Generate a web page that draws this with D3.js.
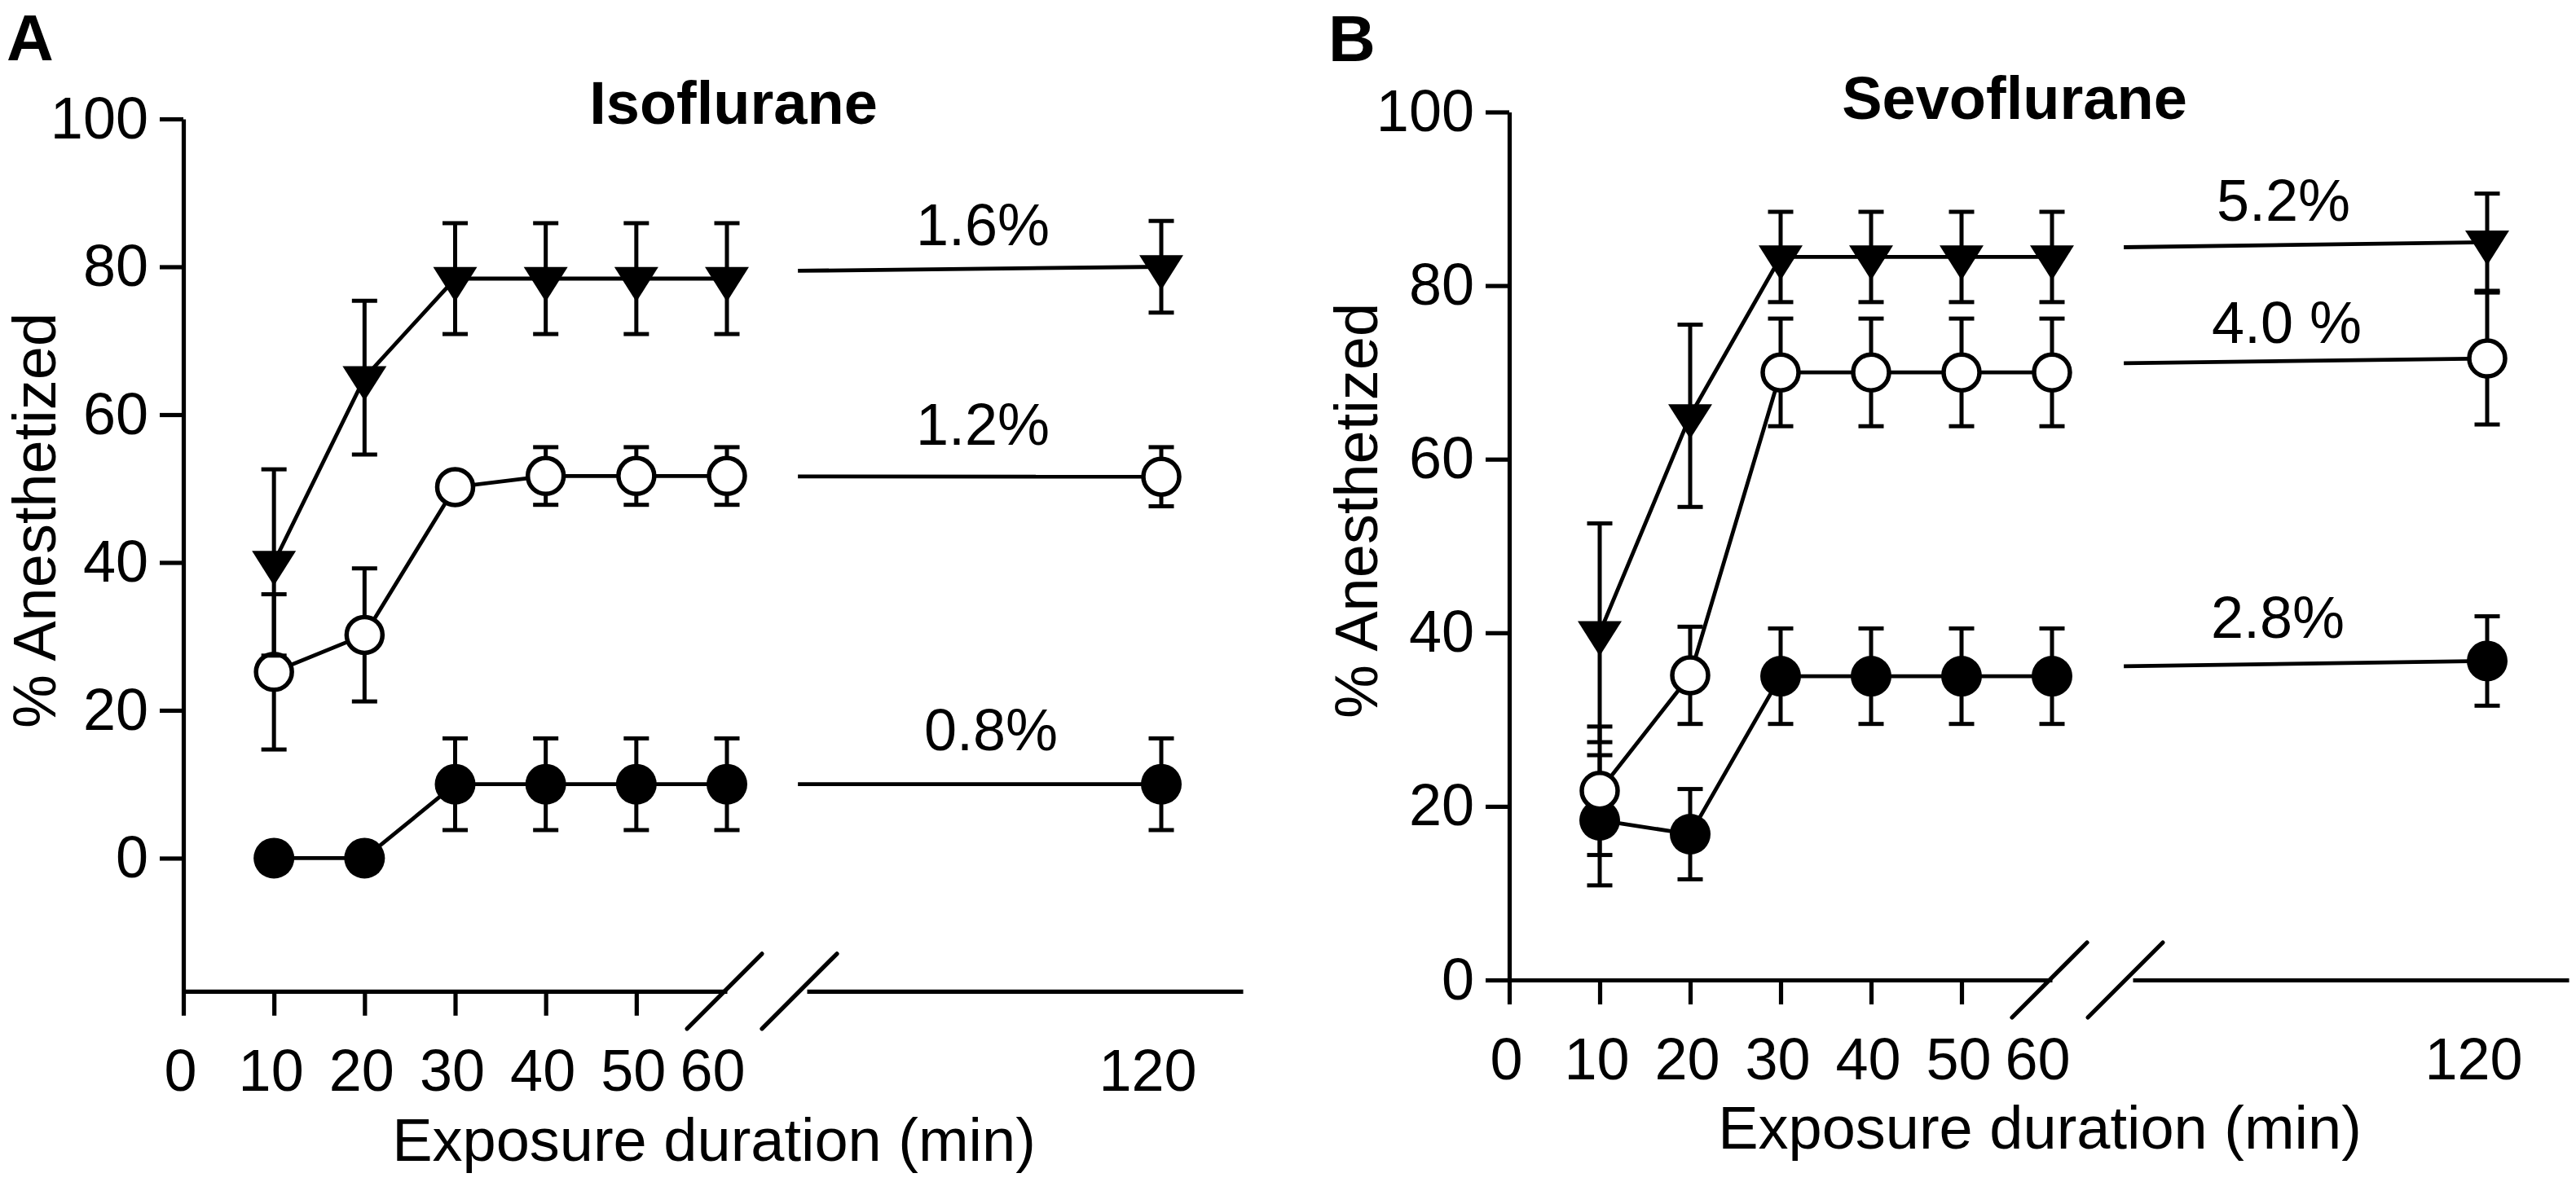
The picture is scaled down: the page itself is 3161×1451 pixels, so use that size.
<!DOCTYPE html>
<html>
<head>
<meta charset="utf-8">
<script src="https://cdn.jsdelivr.net/npm/d3@7"></script>
<style>
  html, body { margin: 0; padding: 0; background: #fff; }
  svg { display: block; }
  text { font-family: "Liberation Sans", Arial, Helvetica, sans-serif; fill: #000; }
</style>
</head>
<body>
<svg id="chart" width="3161" height="1451"></svg>
<script>
// ---------------- DATA ----------------
const times = [10, 20, 30, 40, 50, 60, 120];
const xTicksLeft = [0, 10, 20, 30, 40, 50, 60];
const xTicksRight = [120];
const yTicks = [0, 20, 40, 60, 80, 100];

// Isoflurane (panel A)
const isoLabels = ["1.6%", "1.2%", "0.8%"];
const isoHighMean = [40, 65, 78.4, 78.4, 78.4, 78.4, 80.0];
const isoHighErr  = [12.6, 10.4, 7.5, 7.5, 7.5, 7.5, 6.2];
const isoMidMean  = [25.2, 30.2, 50.2, 51.7, 51.7, 51.7, 51.6];
const isoMidErr   = [10.5, 9.0, 0, 3.9, 3.9, 3.9, 4.0];
const isoLowMean  = [0, 0, 10, 10, 10, 10, 10];
const isoLowErr   = [0, 0, 6.2, 6.2, 6.2, 6.2, 6.2];

// Sevoflurane (panel B)
const sevoLabels = ["5.2%", "4.0 %", "2.8%"];
const sevoHighMean = [40, 65, 83.3, 83.3, 83.3, 83.3, 85.0];
const sevoHighErr  = [12.6, 10.5, 5.2, 5.2, 5.2, 5.2, 5.6];
const sevoMidMean  = [21.8, 35.1, 70, 70, 70, 70, 71.6];
const sevoMidErr   = [7.4, 5.6, 6.2, 6.2, 6.2, 6.2, 7.6];
const sevoLowMean  = [18.4, 16.8, 35, 35, 35, 35, 36.75];
const sevoLowErr   = [7.5, 5.2, 5.5, 5.5, 5.5, 5.5, 5.15];

// ---------------- LAYOUT ----------------
const FONT = 72, TITLE_FONT = 74;
const AXIS_W = 5.2, LINE_W = 4.8, ERR_W = 5, CAP = 31;

const panels = [
  {
    letter: "A", title: "Isoflurane", letterX: 8, letterY: 74,
    titleX: 900, titleY: 152,
    yAxisX: 225, x60: 892, rightStart: 990, x120: 1425, rightEndVal: 124.6,
    yMin: -18, yMinPx: 1216.8, y100Px: 146,
    yTitleX: 68, yTitleY: 639, xTitleX: 876, xTitleY: 1425,
    series: [
      { mean: isoLowMean, err: isoLowErr, sym: "filled", label: isoLabels[2], ldx: -209, ldy: 42 },
      { mean: isoMidMean, err: isoMidErr, sym: "open", label: isoLabels[1], ldx: -219, ldy: 39 },
      { mean: isoHighMean, err: isoHighErr, sym: "tri", label: isoLabels[0], ldx: -219, ldy: 26.5 }
    ]
  },
  {
    letter: "B", title: "Sevoflurane", letterX: 1630, letterY: 75,
    titleX: 2472, titleY: 146,
    yAxisX: 1852, x60: 2518, rightStart: 2617, x120: 3052, rightEndVal: 124.6,
    yMin: 0, yMinPx: 1203, y100Px: 137.5,
    yTitleX: 1690, yTitleY: 627, xTitleX: 2503, xTitleY: 1410,
    series: [
      { mean: sevoLowMean, err: sevoLowErr, sym: "filled", label: sevoLabels[2], ldx: -257, ldy: 28 },
      { mean: sevoMidMean, err: sevoMidErr, sym: "open", label: sevoLabels[1], ldx: -246, ldy: 19 },
      { mean: sevoHighMean, err: sevoHighErr, sym: "tri", label: sevoLabels[0], ldx: -250, ldy: 26 }
    ]
  }
];

// custom downward triangle symbol (centroid at origin)
const triDown = {
  draw(ctx, size) {
    const w = size, h = size * 0.79;
    ctx.moveTo(-w / 2, -h / 3);
    ctx.lineTo(w / 2, -h / 3);
    ctx.lineTo(0, 2 * h / 3);
    ctx.closePath();
  }
};

const svg = d3.select("#chart");
svg.append("rect").attr("width", 3161).attr("height", 1451).attr("fill", "#fff");

panels.forEach(p => {
  const g = svg.append("g");
  const y = d3.scaleLinear().domain([p.yMin, 100]).range([p.yMinPx, p.y100Px]);
  const xL = d3.scaleLinear().domain([0, 60]).range([p.yAxisX, p.x60]);
  const xR = d3.scaleLinear().domain([100, 120]).range([p.rightStart, p.x120]);
  const X = v => (v <= 60 ? xL(v) : xR(v));
  const axisY = y(p.yMin);

  // panel letter & title
  g.append("text").attr("x", p.letterX).attr("y", p.letterY)
    .attr("font-size", 80).attr("font-weight", "bold").text(p.letter);
  g.append("text").attr("x", p.titleX).attr("y", p.titleY)
    .attr("text-anchor", "middle").attr("font-size", 74).attr("font-weight", "bold").text(p.title);

  // Y axis
  const ya = g.append("g").attr("transform", `translate(${p.yAxisX},0)`)
    .call(d3.axisLeft(y).tickValues(yTicks).tickSize(29).tickSizeOuter(0).tickPadding(14));
  // X axis left segment
  const xa = g.append("g").attr("transform", `translate(0,${axisY})`)
    .call(d3.axisBottom(xL).tickValues(xTicksLeft).tickSize(30).tickSizeOuter(0).tickPadding(41));
  xa.selectAll(".tick").filter(d => d === 60).select("line").remove();
  xa.selectAll(".tick text").attr("dx", d => (d === 60 ? -18 : -4));
  // X axis right segment
  const xrAxis = d3.scaleLinear().domain([100, p.rightEndVal]).range([xR(100), xR(p.rightEndVal)]);
  const xb = g.append("g").attr("transform", `translate(0,${axisY})`)
    .call(d3.axisBottom(xrAxis).tickValues(xTicksRight).tickSize(0).tickSizeOuter(0).tickPadding(71));
  xb.selectAll(".tick text").attr("dx", -17);

  [ya, xa, xb].forEach(a => {
    a.selectAll("path.domain").attr("stroke", "#000").attr("stroke-width", AXIS_W);
    a.selectAll(".tick line").attr("stroke", "#000").attr("stroke-width", AXIS_W);
    a.selectAll(".tick text").attr("font-size", FONT)
      .attr("font-family", '"Liberation Sans", Arial, sans-serif').attr("fill", "#000");
  });

  // break marks
  const slashes = [xL(60) - 3, xR(100) - 9];
  slashes.forEach(cx => {
    g.append("line")
      .attr("x1", cx - 46).attr("y1", axisY + 46)
      .attr("x2", cx + 46).attr("y2", axisY - 46)
      .attr("stroke", "#000").attr("stroke-width", AXIS_W).attr("stroke-linecap", "round");
  });

  // axis titles
  g.append("text").attr("transform", `translate(${p.yTitleX},${p.yTitleY}) rotate(-90)`)
    .attr("text-anchor", "middle").attr("font-size", TITLE_FONT).text("% Anesthetized");
  g.append("text").attr("x", p.xTitleX).attr("y", p.xTitleY)
    .attr("text-anchor", "middle").attr("font-size", TITLE_FONT).text("Exposure duration (min)");

  const line = d3.line().x(d => X(d[0])).y(d => y(d[1]));

  p.series.forEach(s => {
    const pts = times.map((t, i) => ({ t, v: s.mean[i], e: s.err[i] }));
    const early = pts.filter(d => d.t <= 60);
    const late = pts[pts.length - 1];
    const last60 = early[early.length - 1];

    // connecting lines
    g.append("path").datum(early.map(d => [d.t, d.v])).attr("d", line)
      .attr("fill", "none").attr("stroke", "#000").attr("stroke-width", LINE_W);
    const startVal = 99.5;
    const interp = last60.v + (late.v - last60.v) * (startVal - 60) / (late.t - 60);
    g.append("path").datum([[startVal, interp], [late.t, late.v]])
      .attr("d", d3.line().x(d => xR(d[0])).y(d => y(d[1])))
      .attr("fill", "none").attr("stroke", "#000").attr("stroke-width", LINE_W);

    // error bars
    const eb = g.append("g").attr("stroke", "#000").attr("stroke-width", ERR_W);
    pts.filter(d => d.e > 0).forEach(d => {
      const cx = X(d.t);
      eb.append("line").attr("x1", cx).attr("x2", cx).attr("y1", y(d.v - d.e)).attr("y2", y(d.v + d.e));
      [d.v - d.e, d.v + d.e].forEach(v => {
        eb.append("line").attr("x1", cx - CAP / 2).attr("x2", cx + CAP / 2).attr("y1", y(v)).attr("y2", y(v));
      });
    });

    // markers
    const mg = g.append("g");
    pts.forEach(d => {
      const cx = X(d.t), cy = y(d.v);
      if (s.sym === "filled") {
        mg.append("circle").attr("cx", cx).attr("cy", cy).attr("r", 25).attr("fill", "#000");
      } else if (s.sym === "open") {
        mg.append("circle").attr("cx", cx).attr("cy", cy).attr("r", 22)
          .attr("fill", "#fff").attr("stroke", "#000").attr("stroke-width", 5.5);
      } else {
        mg.append("path").attr("transform", `translate(${cx},${cy})`)
          .attr("d", d3.symbol(triDown, 54)()).attr("fill", "#000");
      }
    });

    // concentration label
    g.append("text").attr("x", X(late.t) + s.ldx).attr("y", y(late.v) - s.ldy)
      .attr("text-anchor", "middle").attr("font-size", FONT).text(s.label);
  });
});
</script>
</body>
</html>
